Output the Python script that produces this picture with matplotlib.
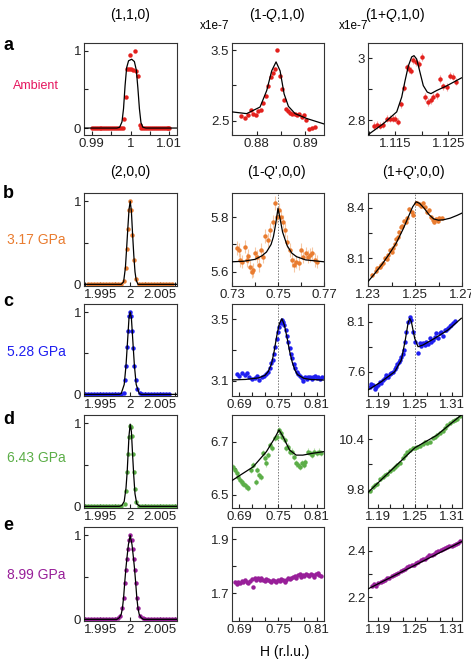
import matplotlib
matplotlib.use("Agg")
import matplotlib.pyplot as plt

plt.rcParams['font.family'] = ['Liberation Sans', 'DejaVu Sans']
plt.rcParams['mathtext.fontset'] = 'custom'
plt.rcParams['mathtext.it'] = 'Liberation Sans:italic'
plt.rcParams['mathtext.rm'] = 'Liberation Sans'

# ---- data ----
# row a: ambient
a1_x = [0.9900, 0.9905, 0.9910, 0.9915, 0.9920, 0.9925, 0.9930, 0.9935, 0.9940, 0.9945,
        0.9950, 0.9955, 0.9960, 0.9965, 0.9970, 0.9975, 0.9980, 0.99825, 0.99877, 0.99919,
        0.99950, 0.99979, 1.0002, 1.00064, 1.0011, 1.00149, 1.00183, 1.00234, 1.0028, 1.0033,
        1.0038, 1.0043, 1.0048, 1.0053, 1.0058, 1.0063, 1.0068, 1.0073, 1.0078, 1.0083,
        1.0088, 1.0093, 1.0098, 1.0100]
a1_y = [0, 0, 0, 0, 0, 0, 0, 0, 0, 0, 0, 0, 0, 0, 0, 0, 0, 0.12, 0.40, 0.77,
        0.77, 0.95, 0.77, 0.75, 1.0, 0.74, 0.67, 0.04, 0, 0,
        0, 0, 0, 0, 0, 0, 0, 0, 0, 0, 0, 0, 0, 0]
a1_fx = [0.988, 0.9965, 0.9972, 0.9978, 0.9982, 0.9986, 0.9990, 0.9995, 1.0003, 1.0010,
         1.0015, 1.0019, 1.0023, 1.0027, 1.0032, 1.0040, 1.012]
a1_fy = [0, 0, 0.01, 0.08, 0.25, 0.55, 0.78, 0.87, 0.89, 0.86, 0.75, 0.52, 0.25, 0.07, 0.01, 0, 0]

a2_x = [0.87669, 0.87759, 0.87828, 0.87876, 0.87931, 0.87986, 0.88034, 0.88083, 0.88138, 0.88193,
        0.88241, 0.88290, 0.88331, 0.88372, 0.88428, 0.88483, 0.88524, 0.88566, 0.88607, 0.88648,
        0.88690, 0.88738, 0.88786, 0.88841, 0.88883, 0.88931, 0.88979, 0.89021, 0.89090, 0.89145,
        0.89200]
a2_y = [2.570, 2.547, 2.579, 2.649, 2.602, 2.579, 2.635, 2.649, 2.751, 2.858,
        2.998, 3.114, 3.170, 3.230, 3.495, 3.137, 2.951, 2.788, 2.672, 2.635,
        2.612, 2.602, 2.602, 2.579, 2.593, 2.556, 2.579, 2.519, 2.384, 2.393,
        2.407]
a2_fx = [0.87497, 0.87793, 0.88069, 0.88207, 0.8831, 0.8840, 0.88483, 0.88566, 0.88655, 0.88793,
         0.89034, 0.8940]
a2_fy = [2.626, 2.602, 2.695, 2.928, 3.207, 3.333, 3.207, 2.881, 2.705, 2.602, 2.533, 2.454]

a3_x = [1.11094, 1.11156, 1.11219, 1.11281, 1.11356, 1.11406, 1.11456, 1.11506, 1.11563, 1.11613,
        1.11675, 1.11719, 1.11763, 1.11800, 1.11844, 1.11894, 1.11956, 1.12006, 1.12063, 1.12125,
        1.12169, 1.12219, 1.12281, 1.12344, 1.12406, 1.12469, 1.12531, 1.12594, 1.12656]
a3_y = [2.781, 2.784, 2.782, 2.786, 2.805, 2.805, 2.805, 2.805, 2.795, 2.851,
        2.905, 2.971, 2.966, 2.960, 2.995, 2.987, 2.982, 3.005, 2.875, 2.859,
        2.864, 2.875, 2.880, 2.934, 2.910, 2.907, 2.944, 2.941, 2.925]
a3_fx = [1.1100, 1.11281, 1.11531, 1.11625, 1.11688, 1.1175, 1.11813, 1.11856, 1.11906, 1.11969,
         1.12031, 1.12106, 1.12175, 1.12281, 1.12469, 1.1275]
a3_fy = [2.754, 2.789, 2.827, 2.875, 2.928, 2.976, 3.005, 3.009, 2.998, 2.955,
         2.912, 2.891, 2.886, 2.896, 2.911, 2.937]

# row b: 3.17 GPa
b1_x = [1.9930, 1.9935, 1.9940, 1.9945, 1.9950, 1.9955, 1.9960, 1.9965, 1.9970, 1.9975,
        1.9980, 1.9985, 1.9990, 1.99922, 1.99944, 1.99961, 1.99978, 2.0, 2.00017, 2.00033,
        2.00067, 2.0010, 2.0015, 2.0020, 2.0025, 2.0030, 2.0035, 2.0040, 2.0045, 2.0050,
        2.0055, 2.0060, 2.0065, 2.0070]
b1_y = [0, 0, 0, 0, 0, 0, 0, 0, 0, 0, 0, 0, 0.04, 0.20, 0.43, 0.67, 0.90, 1.0, 0.90, 0.59,
        0.29, 0.06, 0, 0, 0, 0, 0, 0, 0, 0, 0, 0, 0, 0]
b1_fx = [1.9923, 1.9985, 1.9989, 1.9992, 1.9994, 1.9996, 1.9998, 2.0, 2.0002, 2.0004,
         2.0006, 2.0008, 2.0010, 2.0013, 2.0078]
b1_fy = [0, 0, 0.03, 0.20, 0.43, 0.67, 0.90, 1.0, 0.88, 0.60, 0.35, 0.15, 0.05, 0, 0]

b2_x = [0.7322, 0.7330, 0.7336, 0.7345, 0.7355, 0.7365, 0.7370, 0.7380, 0.7386, 0.7391,
        0.7400, 0.7409, 0.7417, 0.7425, 0.7435, 0.7445, 0.7458, 0.7467, 0.7478, 0.7487,
        0.7496, 0.7504, 0.7514, 0.7522, 0.7529, 0.7539, 0.7551, 0.7561, 0.7570, 0.7580,
        0.7590, 0.7600, 0.7609, 0.7620, 0.7630, 0.7641, 0.7649, 0.7659, 0.7670]
b2_y = [5.686, 5.680, 5.643, 5.637, 5.692, 5.643, 5.657, 5.618, 5.600, 5.606,
        5.667, 5.655, 5.625, 5.680, 5.655, 5.731, 5.717, 5.753, 5.784, 5.852,
        5.802, 5.827, 5.802, 5.784, 5.753, 5.710, 5.680, 5.643, 5.625, 5.637,
        5.631, 5.680, 5.655, 5.667, 5.655, 5.661, 5.667, 5.643, 5.637]
b2_fx = [0.73, 0.735, 0.74, 0.743, 0.745, 0.747, 0.748, 0.749, 0.75, 0.751,
         0.752, 0.754, 0.756, 0.758, 0.762, 0.77]
b2_fy = [5.636, 5.638, 5.645, 5.658, 5.672, 5.700, 5.728, 5.775, 5.833, 5.790,
         5.745, 5.695, 5.668, 5.655, 5.643, 5.636]

b3_x = [1.2319, 1.2333, 1.2340, 1.2350, 1.2357, 1.2364, 1.2371, 1.2379, 1.2386, 1.2393,
        1.2400, 1.2407, 1.2414, 1.2421, 1.2426, 1.2433, 1.2440, 1.2446, 1.2453, 1.2461,
        1.2467, 1.2476, 1.2486, 1.2493, 1.2503, 1.2510, 1.2519, 1.2526, 1.2536, 1.2544,
        1.2553, 1.2561, 1.2569, 1.2576, 1.2581, 1.2590, 1.2596, 1.2604, 1.2614]
b3_y = [8.001, 8.027, 8.041, 8.047, 8.061, 8.071, 8.100, 8.094, 8.120, 8.149,
        8.139, 8.159, 8.183, 8.213, 8.228, 8.258, 8.284, 8.292, 8.323, 8.317,
        8.337, 8.390, 8.376, 8.357, 8.426, 8.430, 8.422, 8.410, 8.426, 8.402,
        8.376, 8.386, 8.347, 8.327, 8.317, 8.333, 8.319, 8.339, 8.337]
b3_fx = [1.23, 1.233, 1.236, 1.239, 1.242, 1.245, 1.247, 1.249, 1.2505, 1.252,
         1.254, 1.256, 1.258, 1.260, 1.262, 1.265, 1.268, 1.27]
b3_fy = [7.962, 8.012, 8.065, 8.125, 8.190, 8.275, 8.340, 8.405, 8.435, 8.425,
         8.395, 8.358, 8.333, 8.326, 8.328, 8.338, 8.355, 8.368]

# row c: 5.28 GPa
c1_x = [1.9925, 1.9930, 1.9935, 1.9940, 1.9945, 1.9950, 1.9955, 1.9960, 1.9965, 1.9970,
        1.9975, 1.9980, 1.9985, 1.99889, 1.99917, 1.99933, 1.9995, 1.99967, 1.99978, 1.99994,
        2.00017, 2.00033, 2.0005, 2.00067, 2.00089, 2.00117, 2.00156, 2.0020, 2.0025, 2.0030,
        2.0035, 2.0040, 2.0045, 2.0050, 2.0055, 2.0060, 2.0065]
c1_y = [0, 0, 0, 0, 0, 0, 0, 0, 0, 0, 0, 0, 0, 0.02, 0.17, 0.35, 0.58, 0.77, 0.95, 1.0,
        0.95, 0.77, 0.57, 0.35, 0.17, 0.06, 0.02, 0, 0, 0, 0, 0, 0, 0, 0, 0, 0]
c1_fx = [1.9923, 1.9982, 1.9985, 1.9990, 1.9993, 1.9995, 1.9998, 2.0, 2.0002, 2.0005,
         2.0007, 2.0010, 2.0015, 2.0018, 2.0078]
c1_fy = [0, 0, 0.01, 0.12, 0.35, 0.58, 0.93, 1.0, 0.93, 0.58, 0.35, 0.12, 0.01, 0, 0]

c2_x = [0.6867, 0.6903, 0.6944, 0.6985, 0.7021, 0.7057, 0.7098, 0.7139, 0.7175, 0.7211,
        0.7252, 0.7287, 0.7318, 0.7344, 0.7369, 0.7395, 0.7416, 0.7436, 0.7457, 0.7477,
        0.7498, 0.7518, 0.7539, 0.7559, 0.7580, 0.7600, 0.7621, 0.7641, 0.7662, 0.7682,
        0.7703, 0.7723, 0.7744, 0.7764, 0.7790, 0.7816, 0.7841, 0.7867, 0.7893, 0.7918,
        0.7944, 0.7969, 0.7995, 0.8021, 0.8046, 0.8072, 0.8098, 0.8123, 0.8149, 0.8175]
c2_y = [3.143, 3.130, 3.147, 3.136, 3.152, 3.121, 3.108, 3.115, 3.130, 3.104,
        3.121, 3.130, 3.143, 3.158, 3.180, 3.212, 3.238, 3.277, 3.320, 3.374,
        3.418, 3.450, 3.476, 3.494, 3.483, 3.461, 3.429, 3.390, 3.353, 3.310,
        3.277, 3.245, 3.208, 3.180, 3.158, 3.143, 3.130, 3.115, 3.100, 3.121,
        3.108, 3.121, 3.126, 3.113, 3.121, 3.130, 3.115, 3.126, 3.113, 3.121]
c2_fx = [0.679, 0.70, 0.72, 0.73, 0.735, 0.74, 0.744, 0.748, 0.752, 0.756,
         0.760, 0.764, 0.768, 0.772, 0.776, 0.78, 0.79, 0.80, 0.821]
c2_fy = [3.105, 3.108, 3.118, 3.135, 3.160, 3.210, 3.290, 3.390, 3.470, 3.504,
         3.460, 3.380, 3.290, 3.220, 3.170, 3.140, 3.115, 3.108, 3.104]

c3_x = [1.1767, 1.1794, 1.1821, 1.1848, 1.1875, 1.1903, 1.1930, 1.1956, 1.1983, 1.2010,
        1.2037, 1.2064, 1.2091, 1.2118, 1.2144, 1.2171, 1.2198, 1.2217, 1.2236, 1.2258,
        1.2279, 1.2300, 1.2322, 1.2341, 1.2360, 1.2387, 1.2414, 1.2441, 1.2468, 1.2495,
        1.2549, 1.2576, 1.2602, 1.2629, 1.2656, 1.2683, 1.2710, 1.2737, 1.2764, 1.2791,
        1.2818, 1.2845, 1.2872, 1.2899, 1.2926, 1.2953, 1.2980, 1.3006, 1.3033, 1.3060,
        1.3087, 1.3114, 1.3152]
c3_y = [7.450, 7.480, 7.467, 7.430, 7.444, 7.470, 7.500, 7.490, 7.517, 7.540,
        7.567, 7.550, 7.577, 7.590, 7.600, 7.630, 7.650, 7.680, 7.700, 7.720,
        7.750, 7.780, 7.817, 7.900, 8.000, 8.100, 8.150, 8.117, 8.000, 7.900,
        7.790, 7.890, 7.860, 7.884, 7.870, 7.900, 7.880, 7.934, 7.900, 7.917,
        7.950, 7.984, 7.940, 7.984, 8.000, 7.957, 8.020, 8.017, 8.040, 8.057,
        8.070, 8.084, 8.110]
c3_fx = [1.174, 1.1955, 1.2172, 1.2279, 1.2343, 1.2387, 1.2414, 1.2441, 1.2495, 1.2549,
         1.2629, 1.2818, 1.3033, 1.3249]
c3_fy = [7.417, 7.500, 7.600, 7.717, 7.917, 8.083, 8.133, 8.100, 7.934, 7.850,
         7.867, 7.934, 8.017, 8.134]

# row d: 6.43 GPa
d1_x = [1.9925, 1.9930, 1.9935, 1.9940, 1.9945, 1.9950, 1.9955, 1.9960, 1.9965, 1.9970,
        1.9975, 1.9980, 1.9985, 1.99906, 1.99933, 1.9995, 1.99967, 1.99978, 1.99994, 2.00011,
        2.00022, 2.00039, 2.00056, 2.00072, 2.0010, 2.0015, 2.0020, 2.0025, 2.0030, 2.0035,
        2.0040, 2.0045, 2.0050, 2.0055, 2.0060, 2.0065, 2.0070, 2.0075]
d1_y = [0, 0, 0, 0, 0, 0, 0, 0, 0, 0, 0, 0, 0, 0.03, 0.19, 0.41, 0.63, 0.83, 0.97, 0.95,
        0.85, 0.63, 0.41, 0.21, 0.05, 0, 0, 0, 0, 0, 0, 0, 0, 0, 0, 0, 0, 0]
d1_fx = [1.9923, 1.9982, 1.9986, 1.9990, 1.9993, 1.9995, 1.9998, 2.0, 2.0002, 2.0004,
         2.0006, 2.0008, 2.0011, 2.0016, 2.0078]
d1_fy = [0, 0, 0.01, 0.06, 0.22, 0.42, 0.85, 0.99, 0.90, 0.62, 0.36, 0.15, 0.03, 0, 0]

d2_x = [0.6811, 0.6836, 0.6862, 0.6887, 0.6913, 0.6938, 0.6964, 0.6989, 0.7015, 0.7040,
        0.7076, 0.7117, 0.7158, 0.7183, 0.7209, 0.7234, 0.7270, 0.7296, 0.7321, 0.7347,
        0.7383, 0.7413, 0.7449, 0.7485, 0.7515, 0.7541, 0.7566, 0.7602, 0.7628, 0.7658,
        0.7689, 0.7720, 0.7750, 0.7781, 0.7812, 0.7842, 0.7873, 0.7898, 0.7924, 0.7960,
        0.7995, 0.8026, 0.8062, 0.8097, 0.8128, 0.8164]
d2_y = [6.605, 6.592, 6.580, 6.567, 6.554, 6.548, 6.542, 6.535, 6.529, 6.525,
        6.592, 6.611, 6.548, 6.592, 6.573, 6.567, 6.656, 6.637, 6.618, 6.649,
        6.687, 6.675, 6.713, 6.719, 6.744, 6.732, 6.719, 6.706, 6.675, 6.681,
        6.662, 6.662, 6.643, 6.618, 6.611, 6.605, 6.618, 6.611, 6.624, 6.662,
        6.656, 6.649, 6.662, 6.656, 6.662, 6.656]
d2_fx = [0.6795, 0.6913, 0.7117, 0.7321, 0.7449, 0.7515, 0.7577, 0.7679, 0.7781, 0.7883,
         0.8036, 0.8205]
d2_fy = [6.554, 6.573, 6.605, 6.662, 6.713, 6.744, 6.719, 6.668, 6.649, 6.649,
         6.656, 6.662]

d3_x = [1.1772, 1.1815, 1.1853, 1.1891, 1.1934, 1.1977, 1.2015, 1.2052, 1.2096, 1.2139,
        1.2177, 1.2214, 1.2257, 1.2301, 1.2338, 1.2376, 1.2419, 1.2463, 1.2500, 1.2537,
        1.2581, 1.2624, 1.2662, 1.2699, 1.2743, 1.2786, 1.2823, 1.2861, 1.2904, 1.2948,
        1.2985, 1.3023, 1.3066, 1.3109, 1.3147, 1.3184, 1.3228]
d3_y = [9.788, 9.829, 9.857, 9.869, 9.921, 9.949, 9.970, 9.990, 10.018, 10.050,
        10.070, 10.090, 10.123, 10.171, 10.211, 10.251, 10.271, 10.292, 10.300, 10.312,
        10.324, 10.340, 10.364, 10.352, 10.372, 10.412, 10.432, 10.452, 10.473, 10.501,
        10.533, 10.573, 10.594, 10.614, 10.634, 10.646, 10.674]
d3_fx = [1.1732, 1.2128, 1.2500, 1.2850, 1.3255]
d3_fy = [9.760, 10.040, 10.300, 10.447, 10.694]

# row e: 8.99 GPa
e1_x = [1.9925, 1.9930, 1.9935, 1.9940, 1.9945, 1.9950, 1.9955, 1.9960, 1.9965, 1.9970,
        1.9975, 1.9979, 1.99833, 1.99867, 1.99889, 1.99911, 1.99928, 1.99944, 1.99961, 1.99978,
        2.0, 2.00022, 2.00039, 2.00056, 2.00072, 2.00089, 2.00111, 2.00133, 2.00167, 2.0021,
        2.0025, 2.0030, 2.0035, 2.0040, 2.0045, 2.0050, 2.0055, 2.0060, 2.0065, 2.0070, 2.0075]
e1_y = [0, 0, 0, 0, 0, 0, 0, 0, 0, 0, 0, 0.01, 0.04, 0.13, 0.26, 0.43, 0.59, 0.72, 0.84, 0.94,
        1.0, 0.94, 0.84, 0.72, 0.59, 0.43, 0.26, 0.13, 0.04, 0.01,
        0, 0, 0, 0, 0, 0, 0, 0, 0, 0, 0]
e1_fx = [1.9923, 1.9978, 1.9982, 1.9985, 1.9987, 1.9989, 1.9991, 1.9993, 1.9995, 1.9997,
         2.0, 2.0003, 2.0005, 2.0007, 2.0009, 2.0011, 2.0013, 2.0015, 2.0018, 2.0022, 2.0078]
e1_fy = [0, 0, 0.02, 0.06, 0.13, 0.26, 0.45, 0.62, 0.76, 0.89,
         1.0, 0.89, 0.76, 0.62, 0.45, 0.26, 0.13, 0.06, 0.02, 0, 0]

e2_x = [0.6836, 0.6862, 0.6887, 0.6913, 0.6938, 0.6964, 0.6989, 0.7015, 0.7040, 0.7066,
        0.7091, 0.7117, 0.7142, 0.7168, 0.7194, 0.7219, 0.7245, 0.7270, 0.7296, 0.7321,
        0.7347, 0.7372, 0.7398, 0.7423, 0.7449, 0.7474, 0.7500, 0.7526, 0.7551, 0.7577,
        0.7602, 0.7628, 0.7653, 0.7679, 0.7704, 0.7730, 0.7755, 0.7781, 0.7806, 0.7832,
        0.7857, 0.7883, 0.7909, 0.7934, 0.7960, 0.7985, 0.8011, 0.8036, 0.8062, 0.8087,
        0.8113, 0.8138, 0.8164]
e2_y = [1.741, 1.733, 1.743, 1.737, 1.746, 1.741, 1.749, 1.743, 1.737, 1.746,
        1.753, 1.725, 1.758, 1.749, 1.756, 1.749, 1.756, 1.749, 1.746, 1.753,
        1.749, 1.746, 1.743, 1.749, 1.746, 1.743, 1.749, 1.746, 1.753, 1.749,
        1.743, 1.749, 1.756, 1.753, 1.758, 1.762, 1.765, 1.758, 1.768, 1.770,
        1.762, 1.768, 1.765, 1.770, 1.768, 1.765, 1.770, 1.768, 1.762, 1.770,
        1.777, 1.768, 1.765]

e3_x = [1.1799, 1.1837, 1.1869, 1.1907, 1.1945, 1.1977, 1.2015, 1.2053, 1.2085, 1.2123,
        1.2160, 1.2193, 1.2230, 1.2268, 1.2301, 1.2338, 1.2376, 1.2408, 1.2446, 1.2484,
        1.2516, 1.2554, 1.2592, 1.2624, 1.2662, 1.2699, 1.2732, 1.2770, 1.2807, 1.2840,
        1.2877, 1.2915, 1.2947, 1.2985, 1.3023, 1.3055, 1.3093, 1.3131, 1.3163, 1.3201,
        1.3228]
e3_y = [2.250, 2.256, 2.249, 2.260, 2.264, 2.270, 2.274, 2.281, 2.284, 2.292,
        2.295, 2.302, 2.306, 2.312, 2.316, 2.323, 2.329, 2.334, 2.337, 2.340,
        2.348, 2.351, 2.358, 2.362, 2.365, 2.372, 2.379, 2.382, 2.386, 2.393,
        2.396, 2.404, 2.407, 2.410, 2.414, 2.418, 2.421, 2.424, 2.428, 2.432,
        2.442]
e3_fx = [1.1736, 1.3255]
e3_fy = [2.236, 2.438]

row_labels = ['a', 'b', 'c', 'd', 'e']
pressures = ['Ambient', '3.17 GPa', '5.28 GPa', '6.43 GPa', '8.99 GPa']
colors = ['#e3201c', '#e97c30', '#1f1ff0', '#5cae48', '#981f99']
err_colors = ['#f5a3a3', '#f6c8a4', '#a9a9f7', '#b9dfae', '#d6a5d6']
label_colors = ['#e5155e', '#e97c30', '#1f1ff0', '#5cae48', '#981f99']

W, H = 471, 661
fig = plt.figure(figsize=(W / 100, H / 100), dpi=100)

col_left = [84, 232, 368]
col_w = [93, 92, 94]
row_top = [43, 193, 304, 415, 527]
row_h = [92, 93, 92, 93, 94]


def make_ax(r, c):
    l, t, w, h = col_left[c], row_top[r], col_w[c], row_h[r]
    return fig.add_axes([l / W, 1 - (t + h) / H, w / W, h / H])


def style(ax, xlim, ylim, xt, xl, yt, yl):
    ax.set_xlim(*xlim)
    ax.set_ylim(*ylim)
    ax.set_xticks(xt)
    ax.set_xticklabels(xl)
    ax.set_yticks(yt)
    ax.set_yticklabels(yl)
    ax.tick_params(direction='in', length=3, width=0.8, labelsize=9.5, pad=2,
                   colors='#222222')
    for s in ax.spines.values():
        s.set_linewidth(0.8)
        s.set_color('#333333')


def draw(ax, x, y, fx, fy, r, yerr=None):
    if fx is not None:
        ax.plot(fx, fy, color='black', lw=0.9, zorder=3)
    if yerr:
        ax.errorbar(x, y, yerr=yerr, fmt='none', ecolor=err_colors[r], elinewidth=0.8, zorder=1)
    ax.plot(x, y, 'o', ms=3.2, color=colors[r], mec='none', zorder=2)


panels = [
    # row a
    [(a1_x, a1_y, a1_fx, a1_fy, None, (0.988, 1.012), [0.99, 0.995, 1.0, 1.005, 1.01],
      ['0.99', '', '1', '', '1.01'], (-0.09, 1.1), [0, 0.5, 1], ['0', '', '1'], False),
     (a2_x, a2_y, a2_fx, a2_fy, None, (0.8749, 0.8939), [0.875, 0.88, 0.885, 0.89],
      ['', '0.88', '', '0.89'], (2.30, 3.60), [2.5, 3.0, 3.5], ['2.5', '', '3.5'], False),
     (a3_x, a3_y, a3_fx, a3_fy, 0.012, (1.1099, 1.1276), [1.11, 1.115, 1.12, 1.125],
      ['', '1.115', '', '1.125'], (2.752, 3.050), [2.8, 2.9, 3.0], ['2.8', '', '3'], False)],
]

xt1 = [1.9925, 1.995, 1.9975, 2.0, 2.0025, 2.005, 2.0075]
xl1 = ['', '1.995', '', '2', '', '2.005', '']
xt2 = [0.69, 0.71, 0.73, 0.75, 0.77, 0.79, 0.81]
xl2 = ['0.69', '', '', '0.75', '', '', '0.81']
xt3 = [1.19, 1.21, 1.23, 1.25, 1.27, 1.29, 1.31]
xl3 = ['1.19', '', '', '1.25', '', '', '1.31']
c1lim = (-0.02, 1.1)

panels.append([
    (b1_x, b1_y, b1_fx, b1_fy, None, (1.9923, 2.0078), xt1, xl1, c1lim, [0, 0.5, 1], ['0', '', '1'], False),
    (b2_x, b2_y, b2_fx, b2_fy, 0.025, (0.73, 0.77), [0.73, 0.74, 0.75, 0.76, 0.77],
     ['0.73', '', '0.75', '', '0.77'], (5.547, 5.889), [5.6, 5.7, 5.8], ['5.6', '', '5.8'], True),
    (b3_x, b3_y, b3_fx, b3_fy, 0.012, (1.23, 1.27), [1.23, 1.24, 1.25, 1.26, 1.27],
     ['1.23', '', '1.25', '', '1.27'], (7.936, 8.487), [8.1, 8.25, 8.4], ['8.1', '', '8.4'], True)])
panels.append([
    (c1_x, c1_y, c1_fx, c1_fy, None, (1.9923, 2.0078), xt1, xl1, c1lim, [0, 0.5, 1], ['0', '', '1'], False),
    (c2_x, c2_y, c2_fx, c2_fy, None, (0.679, 0.821), xt2, xl2, (3.0, 3.6), [3.1, 3.3, 3.5], ['3.1', '', '3.5'], True),
    (c3_x, c3_y, c3_fx, c3_fy, None, (1.174, 1.326), xt3, xl3, (7.357, 8.277), [7.6, 7.85, 8.1], ['7.6', '', '8.1'], True)])
panels.append([
    (d1_x, d1_y, d1_fx, d1_fy, None, (1.9923, 2.0078), xt1, xl1, c1lim, [0, 0.5, 1], ['0', '', '1'], False),
    (d2_x, d2_y, d2_fx, d2_fy, 0.012, (0.679, 0.821), xt2, xl2, (6.45, 6.80), [6.5, 6.6, 6.7], ['6.5', '', '6.7'], True),
    (d3_x, d3_y, d3_fx, d3_fy, 0.01, (1.174, 1.326), xt3, xl3, (9.58, 10.69), [9.8, 10.1, 10.4], ['9.8', '', '10.4'], True)])
panels.append([
    (e1_x, e1_y, e1_fx, e1_fy, None, (1.9923, 2.0078), xt1, xl1, c1lim, [0, 0.5, 1], ['0', '', '1'], False),
    (e2_x, e2_y, None, None, None, (0.679, 0.821), xt2, xl2, (1.597, 1.946), [1.7, 1.8, 1.9], ['1.7', '', '1.9'], False),
    (e3_x, e3_y, e3_fx, e3_fy, None, (1.174, 1.326), xt3, xl3, (2.10, 2.50), [2.2, 2.3, 2.4], ['2.2', '', '2.4'], False)])

for r, row in enumerate(panels):
    for c, p in enumerate(row):
        x, y, fx, fy, err, xlim, xt, xl, ylim, yt, yl, vline = p
        ax = make_ax(r, c)
        if vline:
            ax.axvline(0.75 if c == 1 else 1.25, color='#777777', lw=0.7, ls=(0, (1.5, 1.5)), zorder=0)
        draw(ax, x, y, fx, fy, r, err)
        style(ax, xlim, ylim, xt, xl, yt, yl)

# titles
def fig_text(px, py, s, **kw):
    fig.text(px / W, 1 - py / H, s, ha='center', va='center', **kw)

fig_text(130, 15, '(1,1,0)', fontsize=10)
fig_text(277, 15, '(1-$\\mathit{Q}$,1,0)', fontsize=10)
fig_text(395, 15, '(1+$\\mathit{Q}$,1,0)', fontsize=10)
fig_text(215, 26, 'x1e-7', fontsize=8.5)
fig_text(354, 26, 'x1e-7', fontsize=8.5)
fig_text(130, 172, '(2,0,0)', fontsize=10)
fig_text(277, 172, "(1-$\\mathit{Q}$',0,0)", fontsize=10)
fig_text(413, 172, "(1+$\\mathit{Q}$',0,0)", fontsize=10)

row_label_y = [45, 193, 302, 420, 526]
press_y = [86, 240, 352, 458, 575]
for r in range(5):
    fig.text(3 / W, 1 - row_label_y[r] / H, row_labels[r], fontsize=13, fontweight='bold',
             ha='left', va='center')
    fig_text(36, press_y[r], pressures[r], fontsize=9 if r == 0 else 10, color=label_colors[r])

fig_text(285, 652, 'H (r.l.u.)', fontsize=10)

fig.savefig('out.png', dpi=100)
